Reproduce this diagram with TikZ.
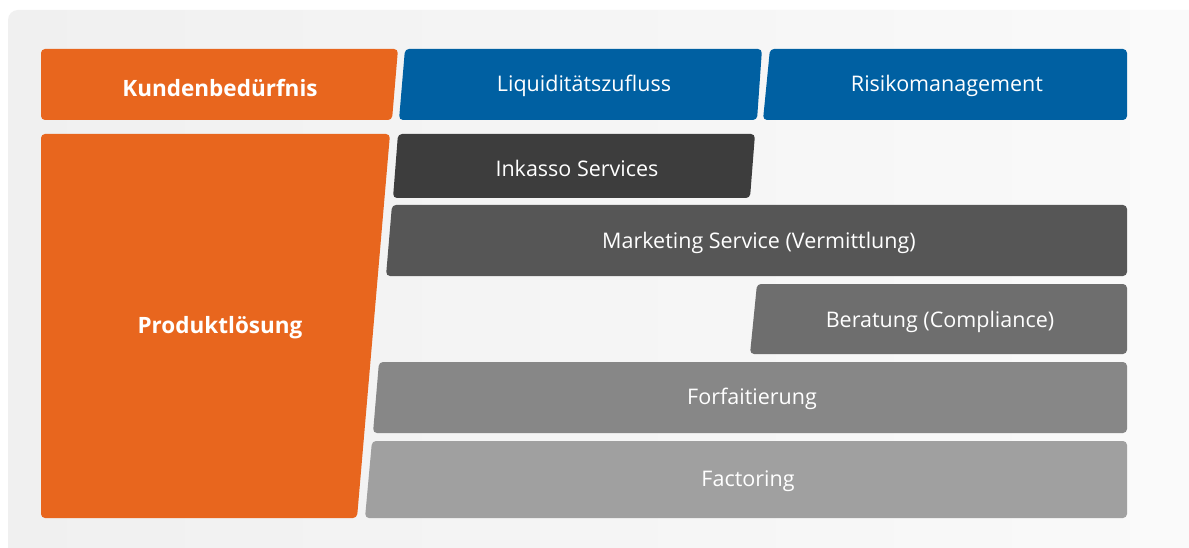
\documentclass[tikz,border=0pt]{standalone}
\usepackage{fontspec}
\setmainfont{Open Sans}
\definecolor{bgL}{HTML}{F0F0F0}
\definecolor{bgR}{HTML}{FAFAFA}
\definecolor{orng}{HTML}{E8661E}
\definecolor{blu}{HTML}{0060A2}
\definecolor{gA}{HTML}{3D3D3D}
\definecolor{gB}{HTML}{565656}
\definecolor{gC}{HTML}{6E6E6E}
\definecolor{gD}{HTML}{878787}
\definecolor{gE}{HTML}{A0A0A0}
\tikzset{
  panel/.style={rounded corners=4pt},
  lbl/.style={text=white, font=\fontsize{21.5}{24}\selectfont, inner sep=0pt},
  blbl/.style={text=white, font=\fontsize{22.5}{25}\selectfont\bfseries, inner sep=0pt}
}
\begin{document}
\begin{tikzpicture}[x=1pt,y=-1pt]
\useasboundingbox (0,0) rectangle (1189,548);
\fill[white] (0,0) rectangle (1189,548);
\shade[left color=bgL, right color=bgR] (8,548) [rounded corners=10pt] -- (8,10) [sharp corners] -- (1189,10) -- (1189,548) -- cycle;
% header row
\fill[orng, panel] (41,49) -- (398,49) -- (392,120) -- (41,120) -- cycle;
\fill[blu, panel] (405,49) -- (762,49) -- (757,120) -- (399,120) -- cycle;
\fill[blu, panel] (770,49) -- (1127,49) -- (1127,120) -- (763,120) -- cycle;
% left product column
\fill[orng, panel] (41,134) -- (390,134) -- (357,518) -- (41,518) -- cycle;
% product rows
\fill[gA, panel] (398,134) -- (755,134) -- (750,198) -- (393,198) -- cycle;
\fill[gB, panel] (392,205) -- (1127,205) -- (1127,276) -- (386,276) -- cycle;
\fill[gC, panel] (757,284) -- (1127,284) -- (1127,354) -- (750,354) -- cycle;
\fill[gD, panel] (379,362) -- (1127,362) -- (1127,433) -- (373,433) -- cycle;
\fill[gE, panel] (372,441) -- (1127,441) -- (1127,518) -- (365,518) -- cycle;
% labels
\node[blbl] (kb) at (220,88) {Kundenbedürfnis};
\node[lbl] (lq) at (584,86) {Liquiditätszufluss};
\node[lbl] (rm) at (947,86) {Risikomanagement};
\node[blbl] (pl) at (220,328) {Produktlösung};
\node[lbl] (ik) at (577,168) {Inkasso Services};
\node[lbl] (ms) at (759,243) {Marketing Service (Vermittlung)};
\node[lbl] (be) at (940,322) {Beratung (Compliance)};
\node[lbl] (fo) at (752,399) {Forfaitierung};
\node[lbl] (fa) at (748,481) {Factoring};
\end{tikzpicture}
\end{document}
